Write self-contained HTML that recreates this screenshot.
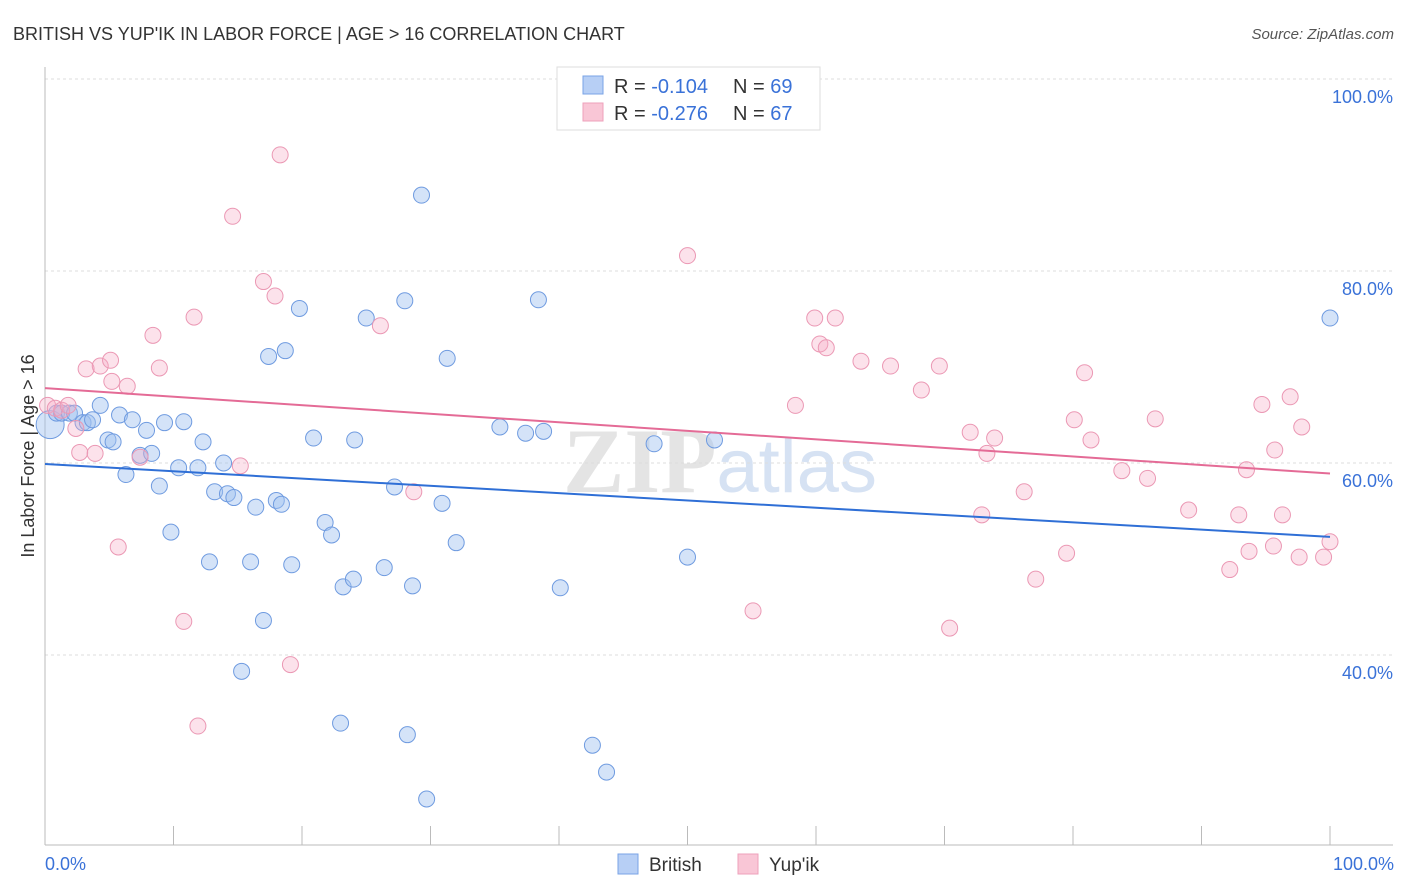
<!DOCTYPE html>
<html><head><meta charset="utf-8"><style>
body{margin:0;background:#fff;font-family:"Liberation Sans",sans-serif}
svg{display:block}
</style></head><body>
<svg width="1406" height="892" xmlns="http://www.w3.org/2000/svg">
<text x="13" y="40" font-size="18" fill="#333">BRITISH VS YUP'IK IN LABOR FORCE | AGE &gt; 16 CORRELATION CHART</text>
<text x="1394" y="39" font-size="15" fill="#555" text-anchor="end" font-style="italic">Source: ZipAtlas.com</text>
<text x="720" y="492" font-size="92" fill="#e4e4e4" text-anchor="middle" font-family="Liberation Serif,serif" font-weight="bold">ZIP<tspan fill="#d6e2f3" font-family="Liberation Sans,sans-serif" font-weight="normal" font-size="76">atlas</tspan></text>
<g id="grid"></g><g id="axes"></g><g id="pts"></g><g id="trend"></g>
<text transform="translate(34,456) rotate(-90)" font-size="18" fill="#333" text-anchor="middle">In Labor Force | Age &gt; 16</text>
<text x="45" y="870" font-size="18" fill="#3a72d8">0.0%</text>
<text x="1394" y="870" font-size="18" fill="#3a72d8" text-anchor="end">100.0%</text>
<g>
<rect x="557" y="67" width="263" height="63" fill="#fff" stroke="#ddd"/>
<rect x="583" y="76" width="20" height="18" fill="#b7cff5" stroke="#7aa3e6"/>
<rect x="583" y="103" width="20" height="18" fill="#f9c6d6" stroke="#eea0bb"/>
<text x="614" y="93" font-size="20" fill="#333">R = <tspan fill="#3a72d8">-0.104</tspan><tspan x="733">N = </tspan><tspan fill="#3a72d8">69</tspan></text>
<text x="614" y="120" font-size="20" fill="#333">R = <tspan fill="#3a72d8">-0.276</tspan><tspan x="733">N = </tspan><tspan fill="#3a72d8">67</tspan></text>
</g>
<g>
<rect x="618" y="854" width="20" height="20" fill="#b7cff5" stroke="#7aa3e6"/>
<text x="649" y="871" font-size="19" fill="#333">British</text>
<rect x="738" y="854" width="20" height="20" fill="#f9c6d6" stroke="#eea0bb"/>
<text x="769" y="871" font-size="19" fill="#333">Yup'ik</text>
</g>
</svg>
<script>
const yTicks=[100,80,60,40];
const xTickVals=[0,10,20,30,40,50,60,70,80,90,100];
const britishX=[0.4,0.9,1.3,1.9,2.3,2.96,3.3,3.7,4.3,4.9,5.3,5.8,6.3,6.8,7.4,7.9,8.3,8.9,9.3,9.8,10.4,10.8,11.9,12.3,12.8,13.2,13.9,14.2,14.7,16.0,16.4,17.0,15.3,17.4,18.0,18.4,18.7,19.2,19.8,20.9,21.8,22.3,23.0,23.2,24.1,24.0,25.0,26.4,27.2,28.0,28.2,28.6,29.3,29.7,30.9,31.3,32.0,35.4,37.4,38.4,38.8,40.1,42.6,43.7,47.4,50.0,52.1,100];
const britishY=[64.0,65.2,65.2,65.2,65.2,64.2,64.2,64.5,66.0,62.4,62.2,65.0,58.8,64.5,60.8,63.4,61.0,57.6,64.2,52.8,59.5,64.3,59.5,62.2,49.7,57.0,60.0,56.8,56.4,49.7,55.4,43.6,38.3,71.1,56.1,55.7,71.7,49.4,76.1,62.6,53.8,52.5,32.9,47.1,62.4,47.9,75.1,49.1,57.5,76.9,31.7,47.2,87.9,25.0,55.8,70.9,51.7,63.75,63.1,77.0,63.3,47.0,30.6,27.8,62.0,50.2,62.4,75.1];
const yupikX=[0.2,0.8,1.3,1.8,2.4,2.7,3.2,3.9,4.3,5.1,5.2,5.7,6.4,7.4,8.4,8.9,10.8,11.6,11.9,14.6,15.2,17.0,17.9,18.3,19.1,26.1,28.7,41.6,50.0,55.1,58.4,59.9,60.3,60.8,61.5,63.5,65.8,68.2,69.6,70.4,72.0,72.9,73.3,73.9,76.2,77.1,79.5,80.1,80.9,81.4,83.8,85.8,86.4,89.0,92.2,92.9,93.7,93.5,94.7,95.7,96.3,95.6,96.9,97.6,97.8,99.5,100];
const yupikY=[66.0,65.7,65.5,66.0,63.6,61.1,69.8,61.0,70.1,70.7,68.5,51.25,68.0,60.6,73.3,69.9,43.5,75.2,32.6,85.7,59.7,78.9,77.4,92.1,39.0,74.3,57.0,99.9,81.6,44.6,66.0,75.1,72.4,72.0,75.1,70.6,70.1,67.6,70.1,42.8,63.2,54.6,61.0,62.6,57.0,47.9,50.6,64.5,69.4,62.4,59.2,58.4,64.6,55.1,48.9,54.6,50.8,59.3,66.1,61.35,54.6,51.35,66.9,50.2,63.75,50.2,51.8];
const britishTrend=[59.9,52.3];
const yupikTrend=[67.8,58.9];
const NS="http://www.w3.org/2000/svg";
const sx=v=>45+v*12.85, sy=v=>79+(100-v)*9.6;
function mk(tag,attrs,parent){const e=document.createElementNS(NS,tag);for(const k in attrs)e.setAttribute(k,attrs[k]);parent.appendChild(e);return e;}
const grid=document.getElementById('grid'),axes=document.getElementById('axes'),pts=document.getElementById('pts'),trend=document.getElementById('trend');
yTicks.forEach(t=>{
 const l=mk('line',{x1:45,x2:1393,y1:sy(t),y2:sy(t),stroke:'#ddd','stroke-dasharray':'3,3'},grid);
 
 
 const tx=mk('text',{x:1393,y:sy(t)+24,'font-size':18,fill:'#3a72d8','text-anchor':'end'},grid);
 tx.textContent=t.toFixed(1)+'%';
 
 
});
const ya=mk('line',{x1:45,x2:45,y1:67,y2:845,stroke:'#bbb'},axes);


const xa=mk('line',{x1:45,x2:1393,y1:845,y2:845,stroke:'#bbb'},axes);


xTickVals.forEach(t=>{
 const l=mk('line',{x1:sx(t),x2:sx(t),y1:826,y2:845,stroke:'#bbb'},axes);
 
 
});
function series(X,Y,fill,stroke,name){
 X.forEach((x,i)=>{
  const c=mk('circle',{cx:sx(x),cy:sy(Y[i]),r:(name==='british-point'&&i===0)?14:8,fill:fill,stroke:stroke,'stroke-width':1},pts);
  
  
 });
}
series(britishX,britishY,'rgba(160,192,240,0.45)','#6f9be0','british-point');
series(yupikX,yupikY,'rgba(246,172,198,0.35)','#eb98b4','yupik-point');
const bt=mk('line',{x1:sx(0),x2:sx(100),y1:sy(britishTrend[0]),y2:sy(britishTrend[1]),stroke:'#2f6fd6','stroke-width':2},trend);


const pt=mk('line',{x1:sx(0),x2:sx(100),y1:sy(yupikTrend[0]),y2:sy(yupikTrend[1]),stroke:'#e46b96','stroke-width':2},trend);


</script>
</body></html>
